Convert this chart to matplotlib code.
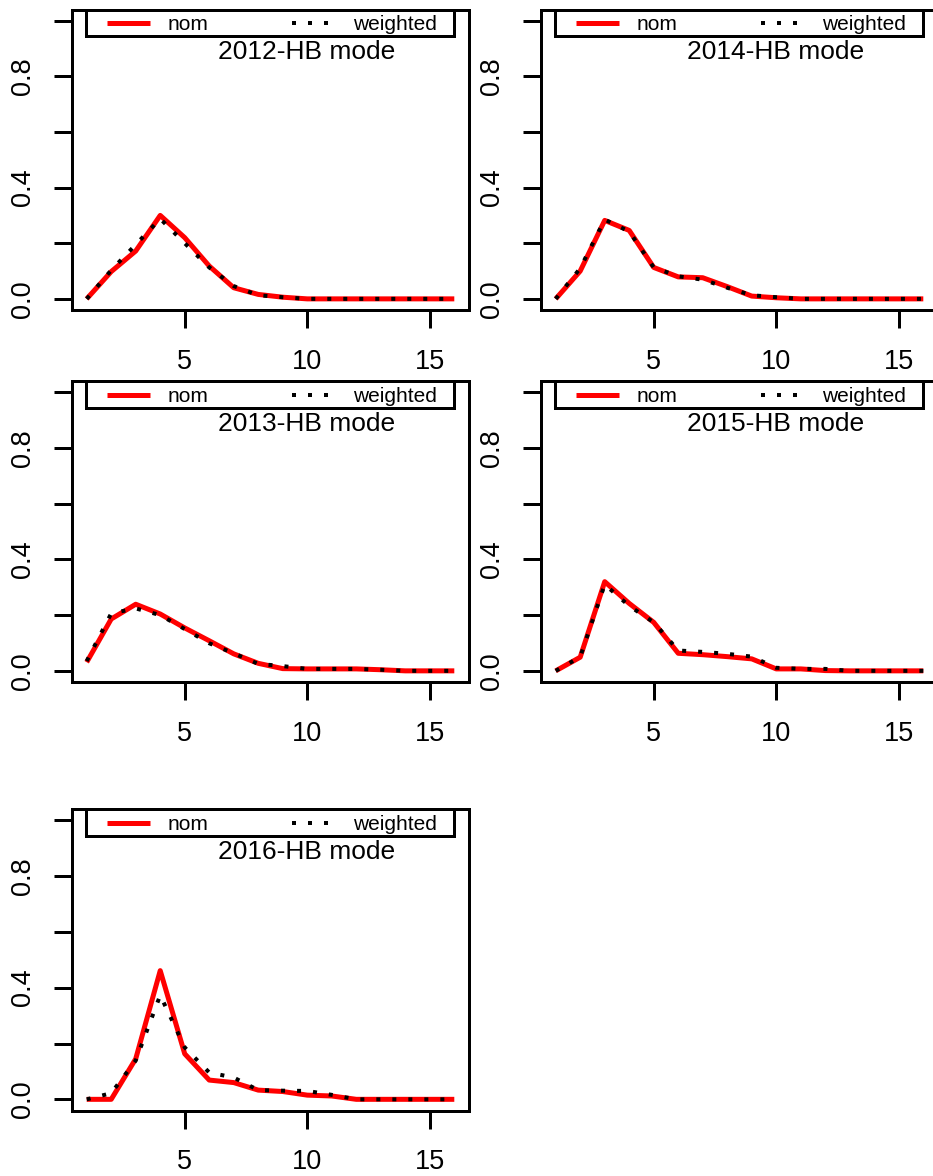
import matplotlib
matplotlib.use("Agg")
import matplotlib.pyplot as plt
from matplotlib.patches import Rectangle
import numpy as np

plt.rcParams['font.family'] = ['Liberation Sans', 'DejaVu Sans']

x = list(range(1, 17))

nom_2012 = [0.0, 0.098, 0.172, 0.300, 0.220, 0.118, 0.040, 0.016, 0.006, 0, 0, 0, 0, 0, 0, 0]
wgt_2012 = [0.0, 0.103, 0.195, 0.288, 0.200, 0.113, 0.046, 0.013, 0.006, 0, 0, 0, 0, 0, 0, 0]

nom_2014 = [0.0, 0.100, 0.282, 0.246, 0.113, 0.079, 0.076, 0.044, 0.010, 0.004, 0, 0, 0, 0, 0, 0]
wgt_2014 = [0.0, 0.110, 0.285, 0.242, 0.113, 0.081, 0.069, 0.040, 0.013, 0.006, 0, 0, 0, 0, 0, 0]

nom_2013 = [0.031, 0.186, 0.239, 0.204, 0.154, 0.108, 0.061, 0.027, 0.008, 0.007, 0.007, 0.007, 0.004, 0, 0, 0]
wgt_2013 = [0.035, 0.206, 0.224, 0.200, 0.150, 0.099, 0.063, 0.025, 0.017, 0.007, 0.007, 0.007, 0.004, 0, 0, 0]

nom_2015 = [0.0, 0.049, 0.320, 0.242, 0.174, 0.063, 0.058, 0.051, 0.043, 0.007, 0.007, 0.001, 0, 0, 0, 0]
wgt_2015 = [0.0, 0.050, 0.310, 0.233, 0.174, 0.073, 0.068, 0.061, 0.051, 0.011, 0.007, 0.007, 0, 0, 0, 0]

nom_2016 = [0.0, 0.0, 0.145, 0.461, 0.163, 0.069, 0.060, 0.033, 0.028, 0.015, 0.012, 0, 0, 0, 0, 0]
wgt_2016 = [0.0, 0.022, 0.139, 0.373, 0.186, 0.096, 0.078, 0.033, 0.031, 0.030, 0.016, 0, 0, 0, 0, 0]

titles = ["2012-HB mode", "2014-HB mode", "2013-HB mode", "2015-HB mode", "2016-HB mode"]
series = [(nom_2012, wgt_2012), (nom_2014, wgt_2014), (nom_2013, wgt_2013),
          (nom_2015, wgt_2015), (nom_2016, wgt_2016)]

yticks = [0.0, 0.2, 0.4, 0.6, 0.8, 1.0]
ytick_labels = ["0.0", "", "0.4", "", "0.8", ""]
xticks = [5, 10, 15]
xtick_labels = ["5", "10", "15"]

W, H = 933, 1176
fig = plt.figure(figsize=(W / 100, H / 100), dpi=100)

# panel rectangles in pixels: x0, top, x1, bottom
rects = [(72, 9.5, 469, 310), (541, 9.5, 938, 310),
         (72, 381, 469, 682), (541, 381, 938, 682),
         (72, 809, 469, 1110.5)]

lw_px = 3 * 72 / 100

for (x0, top, x1, bot), title, (nom, wgt) in zip(rects, titles, series):
    ax = fig.add_axes([x0 / W, 1 - bot / H, (x1 - x0) / W, (bot - top) / H])
    ax.plot(x, nom, color='#ff0000', lw=5 * 72 / 100, solid_capstyle='butt', label='nom')
    ax.plot(x, wgt, color='black', lw=4 * 72 / 100, linestyle=(0, (1, 3)),
            dash_capstyle='butt', label='weighted')
    ax.set_xlim(0.4, 16.6)
    ax.set_ylim(-0.04, 1.04)
    ax.set_xticks(xticks)
    ax.set_xticklabels(xtick_labels)
    ax.set_yticks(yticks)
    ax.set_yticklabels(ytick_labels, rotation=90, va='center')
    for s in ax.spines.values():
        s.set_linewidth(lw_px)
    ax.tick_params(axis='both', length=13, width=lw_px, labelsize=19.5, direction='out')
    ax.tick_params(axis='x', pad=15)
    ax.tick_params(axis='y', pad=13)

    # legend frame
    ax.add_patch(Rectangle((0.036, 0.9115), 0.926, 0.0885, transform=ax.transAxes,
                           fill=False, lw=lw_px, edgecolor='black', clip_on=False))
    ax.legend(loc='center', ncol=2, mode='expand', frameon=False,
              bbox_to_anchor=(0.087, 0.905, 0.832, 0.088), borderpad=0,
              borderaxespad=0, handlelength=2.1, handletextpad=0.85,
              fontsize=15)
    ax.text(0.59, 0.858, title, transform=ax.transAxes, ha='center', va='center',
            fontsize=19)

fig.savefig("out.png", dpi=100)
